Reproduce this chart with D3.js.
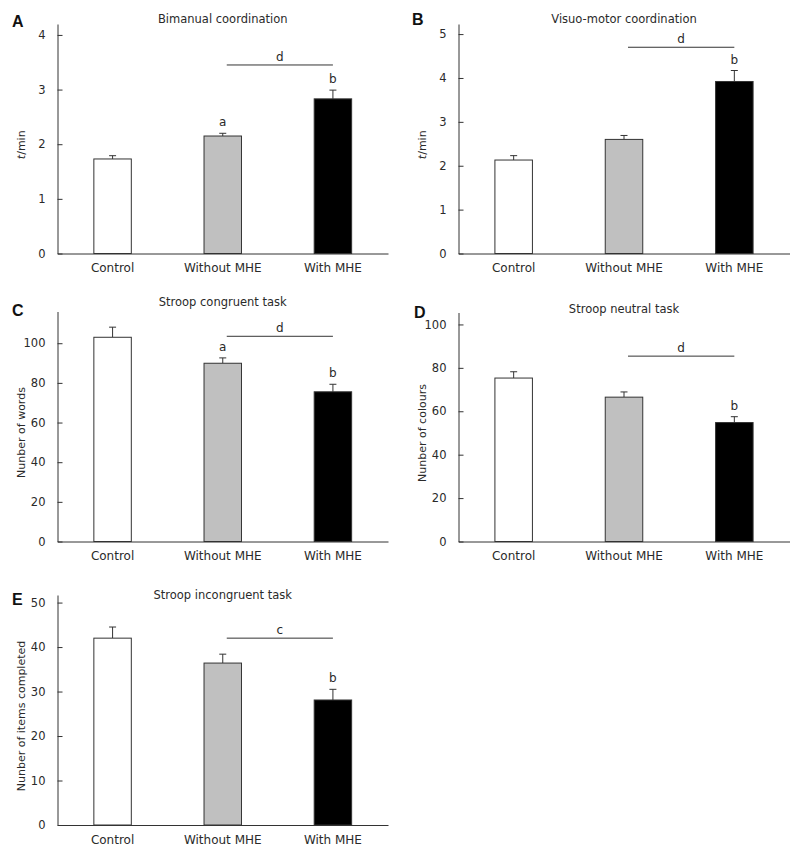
<!DOCTYPE html>
<html><head><meta charset="utf-8">
<script src="https://cdn.jsdelivr.net/npm/d3@7"></script>
<style>
body{margin:0;background:#fff}
svg{display:block}
text{font-family:"DejaVu Sans",Verdana,sans-serif;fill:#2a2a2a}
</style>
</head><body>
<svg id="chart" width="800" height="855"></svg>
<script>
// ---------------- DATA ----------------
const categories = ["Control", "Without MHE", "With MHE"];

const bimanualMeans  = [1.73, 2.15, 2.83];
const bimanualErrors = [0.06, 0.05, 0.16];
const bimanualTicks  = [0, 1, 2, 3, 4];
const bimanualMarks  = ["", "a", "b"];

const visuoMeans  = [2.13, 2.60, 3.92];
const visuoErrors = [0.10, 0.09, 0.25];
const visuoTicks  = [0, 1, 2, 3, 4, 5];
const visuoMarks  = ["", "", "b"];

const congruentMeans  = [103, 89.9, 75.5];
const congruentErrors = [5.1, 2.7, 3.8];
const congruentTicks  = [0, 20, 40, 60, 80, 100];
const congruentMarks  = ["", "a", "b"];

const neutralMeans  = [75.3, 66.5, 54.8];
const neutralErrors = [2.9, 2.4, 2.7];
const neutralTicks  = [0, 20, 40, 60, 80, 100];
const neutralMarks  = ["", "", "b"];

const incongruentMeans  = [42, 36.4, 28.1];
const incongruentErrors = [2.5, 2.0, 2.4];
const incongruentTicks  = [0, 10, 20, 30, 40, 50];
const incongruentMarks  = ["", "", "b"];

const panelLetters = ["A", "B", "C", "D", "E"];
const panelTitles = ["Bimanual coordination", "Visuo-motor coordination",
  "Stroop congruent task", "Stroop neutral task", "Stroop incongruent task"];
const panelYLabels = ["t/min", "t/min", "Nunber of words", "Nunber of colours", "Nunber of items completed"];
const axisMaxima = [4.2, 5.23, 116, 105.5, 51.7];
const sigLevels = [3.45, 4.7, 103.5, 85.4, 42];
const sigLabels = ["d", "d", "d", "d", "c"];

// ---------------- LAYOUT ----------------
const layouts = [
  {L: 57.5, R: 388,   B: 253.5, T: 24,    titleY: 22.7,  letterX: 12,  letterY: 27},
  {L: 458.5, R: 789.5, B: 253.5, T: 24,   titleY: 22.7,  letterX: 412, letterY: 25},
  {L: 57.5, R: 388,   B: 541.5, T: 311.5, titleY: 305.7, letterX: 12,  letterY: 315.5},
  {L: 458.5, R: 789.5, B: 541.5, T: 312.5, titleY: 312.5, letterX: 414, letterY: 317.5},
  {L: 57.5, R: 388,   B: 825,   T: 595,   titleY: 599.3, letterX: 12,  letterY: 605}
];

const seriesMeans  = [bimanualMeans, visuoMeans, congruentMeans, neutralMeans, incongruentMeans];
const seriesErrors = [bimanualErrors, visuoErrors, congruentErrors, neutralErrors, incongruentErrors];
const seriesTicks  = [bimanualTicks, visuoTicks, congruentTicks, neutralTicks, incongruentTicks];
const seriesMarks  = [bimanualMarks, visuoMarks, congruentMarks, neutralMarks, incongruentMarks];

const fills = d3.scaleOrdinal().domain(categories).range(["#ffffff", "#c0c0c0", "#000000"]);
const ink = "#333";

const svg = d3.select("#chart");

panelLetters.forEach((letter, i) => {
  const lay = layouts[i];
  const g = svg.append("g");
  const x = d3.scaleBand().domain(categories).range([lay.L, lay.R])
    .paddingInner(0.66).paddingOuter(0.33);
  const y = d3.scaleLinear().domain([0, axisMaxima[i]]).range([lay.B, lay.T]);
  const bw = x.bandwidth();
  const cx = c => x(c) + bw / 2;

  const data = categories.map((c, k) => ({c, m: seriesMeans[i][k], e: seriesErrors[i][k], mark: seriesMarks[i][k]}));

  // error bars (upper)
  g.selectAll("line.eb").data(data).join("line")
    .attr("x1", d => cx(d.c)).attr("x2", d => cx(d.c))
    .attr("y1", d => y(d.m)).attr("y2", d => y(d.m + d.e))
    .attr("stroke", ink).attr("stroke-width", 1);
  g.selectAll("line.cap").data(data).join("line")
    .attr("x1", d => cx(d.c) - 3.5).attr("x2", d => cx(d.c) + 3.5)
    .attr("y1", d => y(d.m + d.e)).attr("y2", d => y(d.m + d.e))
    .attr("stroke", ink).attr("stroke-width", 1);

  // bars
  g.selectAll("rect").data(data).join("rect")
    .attr("x", d => x(d.c)).attr("width", bw)
    .attr("y", d => y(d.m)).attr("height", d => y(0) - y(d.m))
    .attr("fill", d => fills(d.c)).attr("stroke", ink).attr("stroke-width", 1);

  // letter marks above bars
  g.selectAll("text.mk").data(data.filter(d => d.mark)).join("text")
    .attr("x", d => cx(d.c)).attr("y", d => y(d.m + d.e) - 7)
    .attr("text-anchor", "middle").style("font-size", "12px").text(d => d.mark);

  // y axis
  const ya = d3.axisLeft(y).tickValues(seriesTicks[i]).tickFormat(d3.format("d"))
    .tickSizeInner(-5).tickSizeOuter(0).tickPadding(12);
  const yg = g.append("g").attr("transform", `translate(${lay.L},0)`).call(ya);
  yg.selectAll("path,line").attr("stroke", ink);
  yg.selectAll("text").style("font-size", "11.5px").attr("fill", null);
  yg.attr("font-family", null).attr("font-size", null);

  // x axis
  const xa = d3.axisBottom(x).tickSize(0).tickSizeOuter(0).tickPadding(10);
  const xg = g.append("g").attr("transform", `translate(0,${lay.B})`).call(xa);
  xg.selectAll("path").attr("stroke", ink);
  xg.selectAll("text").style("font-size", "12px").attr("fill", null);
  xg.attr("font-family", null).attr("font-size", null);

  // significance line
  const sx1 = cx(categories[1]) + 4, sx2 = cx(categories[2]);
  g.append("line").attr("x1", sx1).attr("x2", sx2)
    .attr("y1", y(sigLevels[i])).attr("y2", y(sigLevels[i]))
    .attr("stroke", ink).attr("stroke-width", 1);
  g.append("text").attr("x", (sx1 + sx2) / 2).attr("y", y(sigLevels[i]) - 4)
    .attr("text-anchor", "middle").style("font-size", "12px").text(sigLabels[i]);

  // title
  g.append("text").attr("x", (lay.L + lay.R) / 2).attr("y", lay.titleY)
    .attr("text-anchor", "middle").style("font-size", "11.5px").text(panelTitles[i]);

  // panel letter
  g.append("text").attr("x", lay.letterX).attr("y", lay.letterY)
    .style("font-family", "'Liberation Sans',Arial,sans-serif").style("font-weight", "bold")
    .style("font-size", "16px").style("fill", "#111").text(letter);

  // y label
  const yl = g.append("text")
    .attr("transform", `translate(${lay.L - 33},${(lay.T + lay.B) / 2 + 6}) rotate(-90)`)
    .attr("text-anchor", "middle").style("font-size", "11px");
  const lab = panelYLabels[i];
  if (lab.startsWith("t/")) {
    yl.append("tspan").style("font-style", "italic").text("t");
    yl.append("tspan").text(lab.slice(1));
  } else {
    yl.text(lab);
  }
});
</script>
</body></html>
